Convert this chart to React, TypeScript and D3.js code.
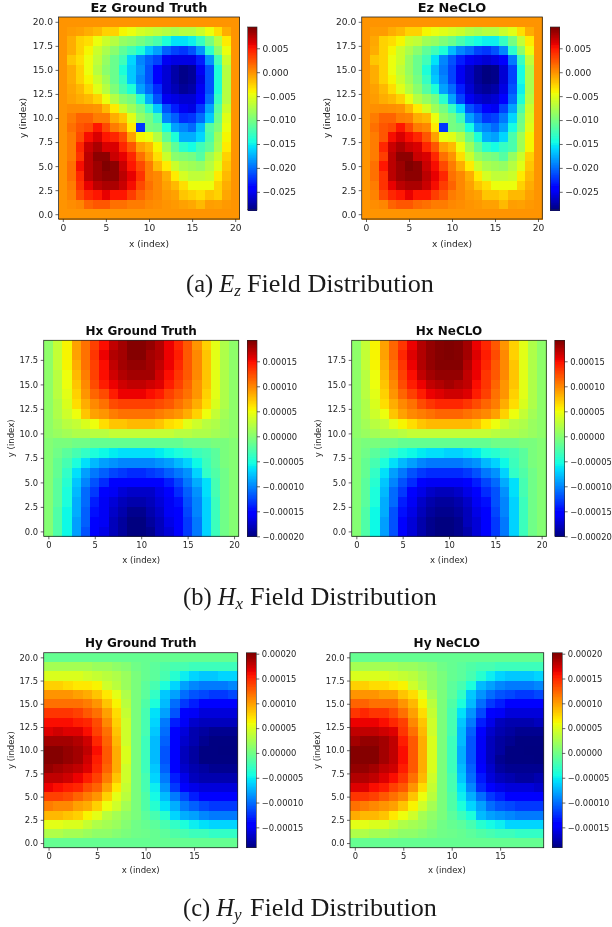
import React, { useEffect, useRef } from 'react';
import * as d3 from 'd3';

// field values, rows listed from the top of the plot downward
// Ez in units of 1e-3, Hx and Hy in units of 1e-5
const ezTruth: number[][] = [
  [0,0,0,0,0,0,0,0,0,0,0,0,0,0,0,0,0,0,0,0,0],
  [0,-.3,-.5,-1,-1.5,-2.5,-2.5,-4,-4.5,-5.5,-6,-6.5,-7,-7.5,-7,-7,-6,-4.5,-3,-1,0],
  [0,-1,-2.5,-3,-4.5,-6,-7,-8.5,-9,-10,-11,-12,-14,-15.5,-15.5,-15,-13,-10,-7,-3.5,0],
  [0,-1,-2.5,-4,-6,-7.5,-9,-11,-12.5,-14,-16.5,-18,-20.5,-21.5,-22,-21,-18.5,-13.5,-9,-4.5,0],
  [0,-2,-3,-4.5,-6.5,-8.5,-10.5,-12.5,-16,-19,-20.5,-21.5,-25,-25.5,-25.5,-25.5,-23,-18.5,-12.5,-6,0],
  [0,-1,-2.5,-4.5,-7,-9,-10.5,-14,-16.5,-18.5,-21,-24,-26,-27.5,-28.5,-28,-25,-21,-14,-7,0],
  [0,-1,-2.5,-4,-6,-8,-10.5,-13,-16.5,-19,-21,-24.5,-26,-27.5,-28.5,-28,-25.5,-21,-14,-7,0],
  [0,-.7,-1.5,-3,-5,-7,-9.5,-12,-14,-18,-20,-22.5,-26,-27,-28,-27.5,-25,-21,-14,-7,0],
  [0,-.5,-1,-1.5,-2.5,-4.5,-7,-9,-10,-13.5,-17.5,-21,-25,-25.5,-26,-26,-24,-20,-13,-7,0],
  [0,.3,.3,.2,0,-1.5,-3.5,-6,-8,-10,-13,-16.5,-21,-23,-25,-25.5,-22,-18,-11.5,-6,0],
  [0,1,2,2,1,1,-1,-2,-5,-8.5,-10,-12.5,-19,-20.5,-22.5,-22,-20,-16.5,-10.5,-5,0],
  [0,1.5,2.5,3,5,3,1,0,-3.5,-22,-10,-10.5,-14.5,-18,-19,-20,-17,-11.5,-9.5,-4.5,0],
  [0,1,3,5.5,6.5,5,4.5,3,-.5,-4,-4.5,-7,-11,-14,-17.5,-17.5,-16,-12,-8,-4,0],
  [0,1,4.5,7,8,6.5,6.5,4.5,2.5,-.5,-1.5,-4,-8,-11,-13.5,-14.5,-12.5,-11,-7.5,-3.5,0],
  [0,1,4,7.5,9,9,7,6,4.5,1.5,-.5,-3,-6,-9,-9.5,-10,-11.5,-8,-6,-2.5,0],
  [0,1.5,5.5,7.5,8.5,9.45,9,7,5,3,1,-1.5,-3.5,-6,-7.5,-8,-8.5,-7,-5,-2,0],
  [0,1.5,4.5,7.5,8.5,9,9,7.5,6,4,1,.5,-1,-3.5,-5.5,-6.5,-6.5,-6,-3.5,-1.5,0],
  [0,1,4,6,7.5,8,8,7,5.5,3,1.5,.5,-.5,-1.5,-3,-4.5,-4.5,-4.5,-2.5,-1,0],
  [0,.7,3,4.5,5,6,5,5,3.5,2,1,.5,-.2,-.5,-2,-2.5,-3,-2,-2.5,-.7,0],
  [0,.3,.6,2,2.5,2.5,1.5,1.5,1,1,.5,.3,0,-.2,-.5,-.8,-1.5,-.4,-.5,-.2,0],
  [0,0,0,0,0,0,0,0,0,0,0,0,0,0,0,0,0,0,0,0,0],
];

const ezNeclo: number[][] = [
  [0,0,0,0,0,0,0,0,0,0,0,0,0,0,0,0,0,0,0,0,0],
  [0,-.3,-.3,-1,-1.5,-2.5,-2.5,-4,-4.5,-5,-5.5,-6,-7,-7.5,-7,-7,-6,-5,-3,-1,0],
  [0,-.8,-2.5,-3,-4,-6,-6.5,-8,-8.5,-9.5,-10.5,-12,-13.5,-14.5,-15,-15,-13,-10,-6.5,-3.5,0],
  [0,-1,-2.5,-4,-6,-7.5,-9,-11,-12.5,-14,-17,-19,-20,-21.5,-22,-21,-19,-13.5,-9,-4.5,0],
  [0,-2,-2.5,-4.5,-6,-8.5,-10.5,-12.5,-15.5,-19,-21,-23,-25,-25.5,-26,-25.5,-24,-19.5,-13,-6.5,0],
  [0,-1,-2.5,-4.5,-6.5,-8.5,-10.5,-14,-17,-19.5,-21.5,-25,-26.5,-28,-28.8,-28.5,-26,-21.5,-14.5,-7.5,0],
  [0,-1,-2.5,-4,-6,-8,-10,-13,-16.5,-19,-21.5,-25,-26.5,-28,-28.8,-28.5,-26,-21.5,-14.5,-7.5,0],
  [0,-.5,-1.5,-3,-5,-7,-9,-11.5,-14,-18,-20,-23,-26,-27.5,-28,-27.5,-25.5,-21,-15,-7.5,0],
  [0,-.3,-1,-1.5,-2.5,-4.5,-7,-8.5,-10,-13.5,-18,-21.5,-25,-26,-26.5,-26,-24.5,-20,-14,-7,0],
  [0,.2,.3,.2,0,-1.5,-3.5,-5.5,-8,-10,-13,-16,-21,-22.5,-24.5,-25,-21.5,-18,-12,-6,0],
  [0,1,2,2,1,.8,-1,-1.5,-4.5,-8.5,-10,-12.5,-18,-20,-22,-21.5,-19.5,-16,-10.5,-5.5,0],
  [0,1.5,2.5,3,5,3,1,.5,-3.5,-22,-10,-10.5,-14.5,-18,-19,-20,-18,-14.5,-10,-5,0],
  [0,1,2.5,5.5,6.5,5.5,4.5,2.5,-.5,-4.5,-5,-7,-10.5,-14,-17.5,-18,-16,-12,-8,-4,0],
  [0,1,4.5,7,8,7,6.5,4.5,2.5,-.5,-1.5,-4.5,-8,-11,-13.5,-14.5,-13,-12,-8,-4,0],
  [0,1,3.5,7.5,9,9,7,6.5,4.5,1.5,0,-3,-6,-8.5,-9.5,-10,-11.5,-8.5,-6,-2.5,0],
  [0,1.5,5,7.5,8.5,9.45,9,7,5.5,3,1,-1,-3.5,-6,-7.5,-8,-8.5,-7,-5,-2,0],
  [0,1.5,4,7.5,8.5,9,9,7.5,6,4.5,1.5,.5,-1,-3.5,-5.5,-6.5,-6.5,-6,-3.5,-1.5,0],
  [0,1,4,6,7.5,8,8,7,5.5,3.5,2,.5,-.5,-2,-3,-4.5,-4.5,-4.5,-2.5,-1,0],
  [0,.7,3,4.5,5,6,5,5,3.5,2.5,1,.5,-.2,-.5,-2,-2,-2.5,-1.5,-1.5,-.5,0],
  [0,.3,.6,2,2.5,2.5,1.8,1.5,1,1,.5,.3,0,-.2,-.5,-.5,-1.5,-.4,-.5,-.2,0],
  [0,0,0,0,0,0,0,0,0,0,0,0,0,0,0,0,0,0,0,0,0],
];

const hxTruth: number[][] = [
  [.5,3,5.5,9,11,13,15,17,18,19,19,18.5,17.5,15.5,14,12,9.5,7,4.5,2,.5],
  [.5,3,5.5,9,11,13.5,15.5,17.5,18,19,19,18,17.5,15.5,14.5,12,10,7.5,4.5,2,.5],
  [.5,3,5.5,8.5,11,13,15,17,18,18.5,18.5,18,17,15.5,14,12,10,7.5,4.5,2,.5],
  [.5,2.5,5,8,10.5,13,15,16.5,17.5,18,18,18,16.5,15,13.5,12,10,7.5,4.5,2,.5],
  [.5,2.5,5,7.5,10,12.5,14.5,15.5,16.5,17,17,16.5,16,14.5,13,11.5,9.5,7.5,4.5,2,.5],
  [.5,2.5,4.5,7,9.5,11.5,12.5,14.5,15.5,15.5,15.5,15,14.5,13,12,11,9.5,7,4.5,2,.5],
  [.5,2,4,6.5,8.5,10,11,12.5,13,13,13,13,12.5,12,11,10,8.5,6.5,4,2,.5],
  [.5,2,3.5,5,7.5,9,9.5,10.5,11,11,11,11,10.5,10,9.5,8.5,7,5,3,1.5,.5],
  [.5,1.5,2.5,3,4,5,6.5,7.5,7.5,8,8,8,7.5,6.5,6,4.5,3.5,2.5,2,1,.5],
  [.5,1,1.5,2,2,2.5,2.5,3,3,3,3,3,3,3,2.5,2.5,2,2,1.5,1,.5],
  [0,-.5,-.5,-1,-1,-1.5,-1.5,-1.5,-1.5,-1.5,-1.5,-1.5,-1.5,-1.5,-1.5,-1,-1,-1,-.5,-.5,0],
  [0,-1,-2,-3,-4,-5,-5.5,-6,-6.5,-6.5,-6.5,-6.5,-6,-5.5,-5,-4.5,-3.5,-3,-2,-.5,0],
  [0,-1.5,-3,-5,-6.5,-8,-9,-9.5,-10,-10,-10,-10,-9.5,-9,-8,-7,-5.5,-3.5,-2,-.5,0],
  [0,-1.5,-4,-6.5,-9,-10.5,-11.5,-12.5,-13,-13.5,-13.5,-13,-12.5,-11.5,-10.5,-9.5,-7,-4,-2.5,-1,0],
  [0,-2,-4.5,-7.5,-10,-12,-13.5,-15,-15.5,-15.5,-15.5,-15.5,-15,-14,-12.5,-10.5,-8.5,-6.5,-3,-1,0],
  [0,-2,-5,-8,-11,-13,-15,-16,-17,-17.5,-17.5,-17.5,-16.5,-15,-13.5,-11.5,-9.5,-6.5,-3,-1,0],
  [0,-2,-5,-8.5,-11,-14,-16,-17,-18,-18.5,-18.5,-18,-17,-16,-14.5,-12,-10,-7,-3.5,-1,0],
  [0,-2.5,-5.5,-8.5,-11.5,-14.5,-16,-17.5,-18.5,-19.5,-19.5,-18.5,-17.5,-16,-15,-12.5,-10,-7,-3.5,-1,0],
  [0,-2.5,-5.5,-9,-11.5,-15,-16,-18,-19,-20,-20,-19,-18,-16.5,-15,-13,-10.5,-7,-3.5,-1,0],
  [0,-2.5,-5.5,-9,-12,-15,-16.5,-18,-19,-20,-20,-19.5,-18,-17,-15,-13,-10.5,-7,-3.5,-1,0],
];

const hxNeclo: number[][] = [
  [.5,3,5.5,9,11.5,13.5,15.5,17.5,18.5,19,19.2,19,18,15.5,14,12,9.5,7,4.5,2,.5],
  [.5,3,5.5,9,11.5,14,16,17.5,18.5,19,19.2,19,18,16,14.5,12.5,10,7,4.5,2,.5],
  [.5,3,5.5,8.5,11,13.5,15.5,17.5,18.5,19,19,19,17.5,15.5,14,12,10,7.5,4.5,2,.5],
  [.5,2.5,5,8,10.5,13,15,17,18,18.5,18.5,18.5,17,15.5,13.5,12,10,7.5,4.5,2,.5],
  [.5,2.5,5,7.5,10,12.5,14.5,15.5,17,17.5,18,17.5,17,15,13.5,11.5,9.5,7.5,4.5,2,.5],
  [.5,2.5,4.5,7,9.5,11.5,13,14.5,15.5,16,16.5,16.5,16,14.5,13,11,9.5,7,4.5,2,.5],
  [.5,2,4,6.5,8.5,10,11,12.5,13.5,14,14,14,13.5,12.5,11.5,10.5,8.5,6.5,4,2,.5],
  [.5,2,3.5,5,7.5,9,10,10.5,11,11.5,11.5,11.5,11,10.5,10,9,7,5,3,1.5,.5],
  [.5,1.5,2.5,3,4.5,5.5,6.5,7.5,8,8,8,8,8,7.5,6,5,3.5,2.5,2,1,.5],
  [.5,1,1.5,2,2,2.5,3,3,3,3,3,3,3,3,3,2.5,2,2,1.5,1,.5],
  [0,-.5,-.5,-1,-1,-1.5,-1.5,-1.5,-1.5,-1.5,-1.5,-1.5,-1.5,-1.5,-1.5,-1,-1,-1,-.5,-.5,0],
  [0,-1,-2,-3,-4,-5,-5.5,-6,-6.5,-6.5,-7,-7,-6.5,-6,-5,-4.5,-3.5,-3,-2,-.5,0],
  [0,-1.5,-3,-5,-6.5,-8,-9,-10,-10.5,-10.5,-10.5,-10.5,-10,-9.5,-8,-7,-5.5,-3.5,-2,-.5,0],
  [0,-1.5,-4,-6.5,-9,-10.5,-12,-13,-13.5,-13.5,-13.5,-13.5,-13,-12,-10.5,-9.5,-7,-4,-2.5,-1,0],
  [0,-2,-4.5,-7.5,-10,-12,-13.5,-15.5,-16,-16,-16,-16,-15.5,-14,-12.5,-11,-8.5,-6.5,-3,-1,0],
  [0,-2,-5,-8,-11,-13,-15,-16.5,-17.5,-18,-18,-17.5,-16.5,-15.5,-13.5,-12,-9.5,-6.5,-3,-1,0],
  [0,-2,-5,-8.5,-11,-14,-16,-17.5,-18.5,-19,-19,-18.5,-17.5,-16,-14.5,-12,-10,-7,-3.5,-1,0],
  [0,-2.5,-5.5,-8.5,-12,-14.5,-16.5,-18,-19,-19.5,-19.5,-19,-18,-16.5,-15,-12.5,-10,-7,-3.5,-1,0],
  [0,-2.5,-5.5,-9,-12,-15,-17,-18.5,-19.5,-20,-20,-19.5,-18,-17,-15,-13,-10.5,-7,-3.5,-1,0],
  [0,-2.5,-5.5,-9,-12,-15,-17,-18.5,-19.5,-20,-20,-19.5,-18.5,-17,-15,-13,-10.5,-7,-3.5,-1,0],
];

const hyTruth: number[][] = [
  [-.5,-.5,-.5,-.5,-.5,-.5,-.5,-.5,-.5,-.5,-.5,-.5,-.5,-.5,-.5,-.5,-.5,-.5,-.5,-.5],
  [2.5,2.5,2.5,2.5,2.5,2,2,1.5,1,0,-.5,-1,-1.5,-2,-2,-2.5,-2.5,-2.5,-2.5,-2.5],
  [5,5,5,5,4.5,4,3.5,3,2,.5,-.5,-1,-2,-3.5,-5,-6,-6.5,-6.5,-6,-6],
  [8,8,7.5,7,7,6.5,4.5,3.5,2,.5,-1,-2,-4,-6,-8,-9,-9.5,-9.5,-9.5,-9],
  [10.5,10.5,10.5,10,9.5,8.5,7,5.5,3,.5,-1,-3,-6.5,-8,-10,-11,-11.5,-12,-12,-11.5],
  [12,12,12,12,11.5,10.5,8.5,6.5,3.5,.5,-1.5,-4,-7,-10,-12,-13,-14,-14.5,-14.5,-14],
  [14.5,14.5,14.5,14,13,12,10,7.5,4,.5,-2,-5.5,-8,-11,-14,-15,-16,-16,-16,-16],
  [16,16,16,15.5,15,13.5,11,8,4.5,.5,-2,-6,-9.5,-13,-15,-16.5,-17,-17,-17,-17],
  [17,17.5,17,17,16,14,12,8.5,4.5,.5,-2,-6.5,-10,-14,-16,-17.5,-18,-18.5,-18.5,-18.5],
  [19,19,19,18.5,17.5,15,12.5,9,4.5,.5,-2.5,-7,-10.5,-14,-16.5,-17.5,-18.5,-19,-19,-19],
  [20,20,19.5,19,18,16,13,9.5,5,.5,-2.5,-7,-11,-14.5,-17,-18,-19,-19,-19.1,-19.1],
  [20,20,19.5,19,17.5,15.5,13,9.5,5,.5,-2.5,-7,-11,-14.5,-17,-18,-19,-19,-19,-19],
  [19.5,19,18.5,18,17,15,12.5,9.5,4.5,.5,-2.5,-6.5,-10.5,-14,-16.5,-17.5,-18,-18.5,-18.5,-18.5],
  [18,18,17.5,16.5,15.5,14,11.5,8.5,4.5,.5,-2,-6,-9.5,-13,-15.5,-17,-17.5,-17.5,-17.5,-17.5],
  [16.5,16,15.5,15,13.5,12.5,10,7,4,.5,-2,-5,-8.5,-12,-14,-15.5,-16,-16,-16,-16],
  [14,14,13.5,12.5,11.5,10.5,8,5.5,3.5,.5,-1.5,-4.5,-7,-9.5,-11.5,-13,-14,-14,-14,-14],
  [11.5,11,11,10,9.5,8,6,4.5,2.5,.5,-1.5,-3.5,-5.5,-7.5,-9.5,-10.5,-11.5,-12,-12,-12],
  [9,9,8.5,8,6.5,5.5,3.5,2.5,1.5,.5,-1,-2,-3.5,-6,-7.5,-8,-9,-9.5,-9.5,-9.5],
  [5.5,5.5,5,5,4,3,2.5,2,1,0,-.5,-1,-2,-3,-4,-5,-5.5,-6,-6,-6],
  [3,3,2.5,2.5,2,1.5,1.5,1,.5,0,-.2,-.5,-1,-1.5,-2,-2.5,-2.5,-3,-3,-3],
  [-.5,-.5,-.5,-.5,-.5,-.5,-.5,-.5,-.5,-.5,-.5,-.5,-.5,-.5,-.5,-.5,-.5,-.5,-.5,-.5],
];

const hyNeclo: number[][] = [
  [-.5,-.5,-.5,-.5,-.5,-.5,-.5,-.5,-.5,-.5,-.5,-.5,-.5,-.5,-.5,-.5,-.5,-.5,-.5,-.5],
  [2.5,2.5,2.5,2.5,2.5,2,2,1.5,1,0,-.5,-1,-1.5,-2,-2,-2.5,-2.5,-2.5,-2.5,-2.5],
  [5,5,5,5,4.5,4,3.5,2.5,1.5,.5,-.5,-1,-2,-3.5,-5,-6,-6.5,-6.5,-6.5,-6],
  [8,8,7.5,7.5,7,6.5,4.5,3,1.5,.5,-1,-2,-4,-7,-8,-9,-9.5,-9.5,-9.5,-9],
  [10.5,10.5,10.5,10,10,8.5,7.5,5.5,2.5,.5,-1,-3,-6.5,-8.5,-10,-11,-11.5,-12,-12,-11.5],
  [12.5,12.5,12,12,12,10.5,9,6.5,3.5,.5,-1.5,-4,-7,-10,-12,-13,-14,-14.5,-14.5,-14],
  [14.5,15,14.5,14.5,13.5,12,10,7.5,4,.5,-2,-5.5,-8.5,-11.5,-14,-15,-16,-16,-16,-16],
  [16.5,16.5,16.5,16,15,14,11,8.5,4.5,.5,-2,-6.5,-9.5,-13,-15.5,-17,-17.5,-17.5,-17.5,-17],
  [18,18,18,17.5,17,14.5,12,9,4.5,.5,-2,-7,-10.5,-14.5,-16.5,-17.5,-18,-18.5,-18.5,-18.5],
  [19,19.5,19.5,19,18,15.5,13,9.5,5,.5,-2.5,-7,-11,-15,-17,-18,-18.5,-19,-19,-19],
  [20,20,20,19,18,16,13,9.5,5,.5,-2.5,-7.5,-11,-15,-17,-18,-19,-19,-19.1,-19.1],
  [20,20,20,19,18,16,13,9.5,5,.5,-2.5,-7.5,-11,-15,-17,-18.5,-19,-19,-19,-19.1],
  [19.5,19.5,19,18,17.5,15.5,13,9.5,5,.5,-2.5,-7,-10.5,-14.5,-16.5,-18,-18.5,-18.5,-18.5,-18.5],
  [18.5,18.5,18,17,16,14.5,12,9,4.5,.5,-2,-6.5,-10,-13.5,-16,-17,-17.5,-18,-18,-17.5],
  [17,17,16,15.5,14,13,10.5,7.5,4,.5,-2,-5.5,-9,-12.5,-14,-15.5,-16,-16,-16,-16.5],
  [14.5,14.5,14,13,12,11,8.5,6,3.5,.5,-1.5,-5,-7.5,-10,-12,-13,-14,-14.5,-14.5,-14.5],
  [12,11.5,11,10.5,10,8.5,6.5,4.5,2.5,.5,-1.5,-4,-6,-8,-10,-11,-11.5,-12,-12,-12],
  [9.5,9,9,8.5,7,6,4.5,2.5,1.5,.5,-1,-2.5,-4,-7,-8,-8.5,-9,-9.5,-9.5,-9.5],
  [5.5,5.5,5,5,4,3,2.5,2,1,0,-.5,-1,-2,-3.5,-4.5,-5,-6,-6,-6,-6],
  [3,3,2.5,2.5,2,1.5,1.5,1,.5,0,-.2,-.5,-1,-1.5,-2,-2.5,-2.5,-3,-3,-3],
  [-.5,-.5,-.5,-.5,-.5,-.5,-.5,-.5,-.5,-.5,-.5,-.5,-.5,-.5,-.5,-.5,-.5,-.5,-.5,-.5],
];

const axisTicksFull = [0, 5, 10, 15, 20];
const axisTicksShort = [0, 5, 10, 15];
const yTicksFull = [0, 2.5, 5, 7.5, 10, 12.5, 15, 17.5, 20];
const yTicksShort = [0, 2.5, 5, 7.5, 10, 12.5, 15, 17.5];
const ezBarTicks = [5, 0, -5, -10, -15, -20, -25];
const hxBarTicks = [15, 10, 5, 0, -5, -10, -15, -20];
const hyBarTicks = [20, 15, 10, 5, 0, -5, -10, -15];

const fmtEz = (d: number) => d3.format('.3f')(d * 1e-3);
const fmtH = (d: number) => d3.format('.5f')(d * 1e-5);

// matplotlib's jet
const jetR = d3.scaleLinear([0, 0.35, 0.66, 0.89, 1], [0, 0, 1, 1, 0.5]).clamp(true);
const jetG = d3.scaleLinear([0, 0.125, 0.375, 0.64, 0.91, 1], [0, 0, 1, 1, 0, 0]).clamp(true);
const jetB = d3.scaleLinear([0, 0.11, 0.34, 0.65, 1], [0.5, 1, 1, 0, 0]).clamp(true);
const jet = (t: number) => `rgb(${Math.round(jetR(t) * 255)},${Math.round(jetG(t) * 255)},${Math.round(jetB(t) * 255)})`;

type Panel = {
  title: string; data: number[][]; left: number; right: number; top: number; bottom: number;
  barLeft: number; barRight: number; barTop: number; barBottom: number;
  vmin: number; vmax: number; xTicks: number[]; yTicks: number[]; barTicks: number[];
  fmt: (d: number) => string; titleY: number; labelY: number; titleSize: number;
  tickSize: number; labelSize: number; yLabelX: number;
};

const ezRow = { top: 17, bottom: 219, barTop: 27, barBottom: 210, vmin: -28.8, vmax: 9.45, xTicks: axisTicksFull, yTicks: yTicksFull, barTicks: ezBarTicks, fmt: fmtEz, titleY: 12, labelY: 246.5, titleSize: 12.9, tickSize: 9.1, labelSize: 9.05 };
const hxRow = { top: 340.3, bottom: 536.3, barTop: 340.3, barBottom: 536.3, vmin: -20, vmax: 19.2, xTicks: axisTicksFull, yTicks: yTicksShort, barTicks: hxBarTicks, fmt: fmtH, titleY: 335, labelY: 562.5, titleSize: 12, tickSize: 8.4, labelSize: 8.55 };
const hyRow = { top: 652.7, bottom: 847.7, barTop: 652.7, barBottom: 847.7, vmin: -19.1, vmax: 20.2, xTicks: axisTicksShort, yTicks: yTicksFull, barTicks: hyBarTicks, fmt: fmtH, titleY: 647, labelY: 873, titleSize: 12, tickSize: 8.4, labelSize: 8.55 };

const panels: Panel[] = [
  { ...ezRow, title: 'Ez Ground Truth', data: ezTruth, left: 58.5, right: 239.5, barLeft: 247.5, barRight: 257, yLabelX: 26 },
  { ...ezRow, title: 'Ez NeCLO', data: ezNeclo, left: 361.7, right: 542.3, barLeft: 550.3, barRight: 559.7, yLabelX: 330 },
  { ...hxRow, title: 'Hx Ground Truth', data: hxTruth, left: 43.7, right: 238.7, barLeft: 247.3, barRight: 257, yLabelX: 14 },
  { ...hxRow, title: 'Hx NeCLO', data: hxNeclo, left: 351.7, right: 546.3, barLeft: 554.7, barRight: 564.7, yLabelX: 321 },
  { ...hyRow, title: 'Hy Ground Truth', data: hyTruth, left: 43.7, right: 237.7, barLeft: 246.3, barRight: 256.3, yLabelX: 14 },
  { ...hyRow, title: 'Hy NeCLO', data: hyNeclo, left: 350, right: 543.7, barLeft: 552.3, barRight: 562.3, yLabelX: 320 },
];

const captions = [
  { x: 186, y: 292, restX: 247, tag: '(a) ', sym: 'E', sub: 'z' },
  { x: 183, y: 605, restX: 250, tag: '(b) ', sym: 'H', sub: 'x' },
  { x: 183, y: 916, restX: 250, tag: '(c) ', sym: 'H', sub: 'y' },
];

const sans = 'DejaVu Sans';
const ink = '#262626';

function HeatPanel({ p }: { p: Panel }) {
  const gx = useRef<SVGGElement>(null);
  const gy = useRef<SVGGElement>(null);
  const gb = useRef<SVGGElement>(null);

  const nRows = p.data.length;
  const nCols = p.data[0].length;
  const x = d3.scaleLinear([-0.5, nCols - 0.5], [p.left, p.right]);
  const y = d3.scaleLinear([-0.5, nRows - 0.5], [p.bottom, p.top]);
  const t = d3.scaleLinear([p.vmin, p.vmax], [0, 1]).clamp(true);
  const bar = d3.scaleLinear([p.vmin, p.vmax], [p.barBottom, p.barTop]);
  const levels = d3.range(256);

  useEffect(() => {
    const style = (g: any) => {
      g.selectAll('text').attr('font-family', sans).attr('font-size', p.tickSize).attr('fill', ink);
      g.selectAll('line').attr('stroke', ink).attr('stroke-width', 0.7);
      g.select('.domain').remove();
    };
    d3.select(gx.current).call(
      d3.axisBottom(x).tickValues(p.xTicks).tickFormat((d: any) => String(d)).tickSize(3).tickPadding(2.5) as any
    ).call(style);
    d3.select(gy.current).call(
      d3.axisLeft(y).tickValues(p.yTicks).tickFormat(d3.format('.1f') as any).tickSize(3).tickPadding(2.5) as any
    ).call(style);
    d3.select(gb.current).call(
      d3.axisRight(bar).tickValues(p.barTicks).tickFormat(p.fmt as any).tickSize(3).tickPadding(2.5) as any
    ).call(style);
  }, []);

  return (
    <g>
      <g shapeRendering="crispEdges">
        {p.data.map((row, i) =>
          row.map((v, j) => {
            const yi = nRows - 1 - i;
            return (
              <rect key={`${i}-${j}`} x={x(j - 0.5)} y={y(yi + 0.5)}
                width={x(j + 0.5) - x(j - 0.5) + 0.5} height={y(yi - 0.5) - y(yi + 0.5) + 0.5}
                fill={jet(t(v))} />
            );
          })
        )}
      </g>
      <rect x={p.left} y={p.top} width={p.right - p.left} height={p.bottom - p.top} fill="none" stroke={ink} strokeWidth={0.8} />
      <g transform={`translate(0,${p.bottom})`} ref={gx} />
      <g transform={`translate(${p.left},0)`} ref={gy} />
      <g shapeRendering="crispEdges">
        {levels.map((l) => {
          const h = (p.barBottom - p.barTop) / 256;
          return <rect key={l} x={p.barLeft} y={p.barBottom - (l + 1) * h} width={p.barRight - p.barLeft} height={h + 0.5} fill={jet(l / 255)} />;
        })}
      </g>
      <rect x={p.barLeft} y={p.barTop} width={p.barRight - p.barLeft} height={p.barBottom - p.barTop} fill="none" stroke={ink} strokeWidth={0.6} />
      <g transform={`translate(${p.barRight},0)`} ref={gb} />
      <text x={(p.left + p.right) / 2} y={p.titleY} textAnchor="middle" fontFamily={sans} fontWeight="bold" fontSize={p.titleSize} fill="#111">{p.title}</text>
      <text x={(p.left + p.right) / 2} y={p.labelY} textAnchor="middle" fontFamily={sans} fontSize={p.labelSize} fill={ink}>x (index)</text>
      <text transform={`translate(${p.yLabelX},${(p.top + p.bottom) / 2}) rotate(-90)`} textAnchor="middle" fontFamily={sans} fontSize={p.labelSize} fill={ink}>y (index)</text>
    </g>
  );
}

export default function App() {
  return (
    <svg width={612} height={927} style={{ position: 'absolute', left: 0, top: 0, background: '#fff' }}>
      <defs>
        <filter id="soften" filterUnits="userSpaceOnUse" x={0} y={0} width={612} height={927}>
          <feGaussianBlur stdDeviation={0.4} />
        </filter>
      </defs>
      <g filter="url(#soften)">
        {panels.map((p) => <HeatPanel key={p.title} p={p} />)}
      </g>
      {captions.map((c) => (
        <g key={c.tag} fontFamily="Liberation Serif" fill="#1a1a1a">
          <text x={c.x} y={c.y} fontSize={24.5}>
            {c.tag}
            <tspan fontStyle="italic">{c.sym}</tspan>
            <tspan fontStyle="italic" fontSize={17} dy={4}>{c.sub}</tspan>
          </text>
          <text x={c.restX} y={c.y} fontSize={26.2}>Field Distribution</text>
        </g>
      ))}
    </svg>
  );
}
